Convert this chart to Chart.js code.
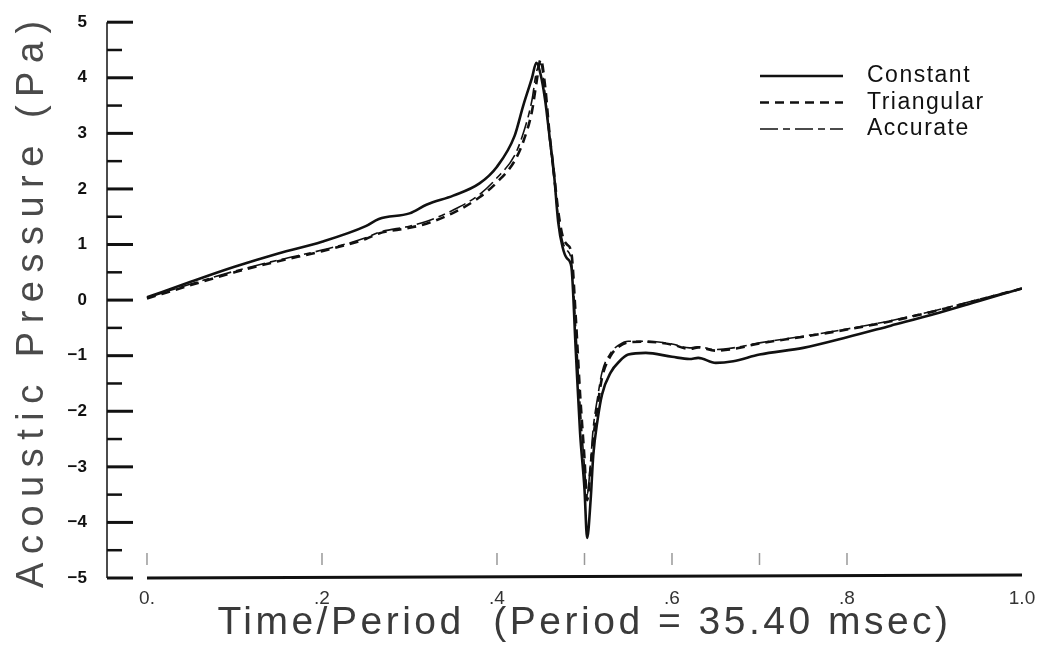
<!DOCTYPE html>
<html>
<head>
<meta charset="utf-8">
<script src="https://cdn.jsdelivr.net/npm/chart.js@4.4.1/dist/chart.umd.min.js"></script>
<style>
html,body{margin:0;padding:0;background:#fff;}
#wrap{width:1041px;height:654px;position:relative;}
</style>
</head>
<body>
<div id="wrap"><canvas id="c" width="1041" height="654"></canvas></div>
<script>
// ---- data ----
const xValues = [0, 0.05, 0.1, 0.15, 0.2, 0.25, 0.265, 0.3, 0.32, 0.35, 0.38, 0.4, 0.42, 0.43, 0.44, 0.445, 0.45, 0.455, 0.46, 0.465, 0.47, 0.475, 0.48, 0.485, 0.49, 0.495, 0.5, 0.503, 0.507, 0.51, 0.515, 0.52, 0.53, 0.54, 0.55, 0.57, 0.6, 0.62, 0.63, 0.65, 0.67, 0.7, 0.75, 0.8, 0.85, 0.9, 0.95, 1.0];
const constantValues = [0.05, 0.33, 0.6, 0.84, 1.05, 1.33, 1.46, 1.56, 1.72, 1.88, 2.1, 2.4, 2.95, 3.5, 4.0, 4.27, 4.05, 3.6, 2.95, 2.3, 1.4, 0.95, 0.75, 0.6, -0.9, -2.4, -3.4, -4.28, -3.6, -2.8, -2.15, -1.7, -1.3, -1.1, -0.98, -0.95, -1.02, -1.06, -1.04, -1.13, -1.1, -0.98, -0.86, -0.67, -0.46, -0.25, -0.02, 0.21];
const triangularValues = [0.03, 0.27, 0.5, 0.7, 0.88, 1.1, 1.2, 1.3, 1.38, 1.57, 1.85, 2.12, 2.5, 2.85, 3.4, 3.9, 4.33, 3.85, 3.0, 2.3, 1.6, 1.15, 1.0, 0.85, -0.3, -1.7, -2.85, -3.6, -3.0, -2.5, -1.9, -1.4, -1.0, -0.83, -0.76, -0.75, -0.8, -0.88, -0.85, -0.91, -0.88, -0.78, -0.66, -0.53, -0.38, -0.2, 0.0, 0.21];
const accurateValues = [0.04, 0.29, 0.52, 0.72, 0.9, 1.12, 1.22, 1.33, 1.42, 1.62, 1.9, 2.2, 2.6, 3.0, 3.6, 4.1, 4.25, 3.7, 2.9, 2.2, 1.5, 1.05, 0.9, 0.7, -0.5, -1.9, -3.0, -3.5, -2.9, -2.3, -1.75, -1.3, -0.95, -0.8, -0.74, -0.74, -0.79, -0.86, -0.84, -0.89, -0.86, -0.77, -0.65, -0.52, -0.37, -0.19, 0.01, 0.21];
const seriesNames = ['Constant', 'Triangular', 'Accurate'];
const xTickValues = [0, 0.2, 0.4, 0.6, 0.8, 1.0];
const xTickLabels = ['0.', '.2', '.4', '.6', '.8', '1.0'];
const xMinorTickValues = [0, 0.2, 0.4, 0.5, 0.6, 0.7, 0.8];
const yTickValues = [5, 4, 3, 2, 1, 0, -1, -2, -3, -4, -5];
const yTickLabels = ['5', '4', '3', '2', '1', '0', '\u22121', '\u22122', '\u22123', '\u22124', '\u22125'];
const yMinorTickValues = [4.5, 3.5, 2.5, 1.5, 0.5, -0.5, -1.5, -2.5, -3.5, -4.5];
const xTitle = 'Time/Period  (Period = 35.40 msec)';
const yTitle = 'Acoustic Pressure (Pa)';

const toPoints = arr => xValues.map((x, i) => ({x: x, y: arr[i]}));

const INK = '#111';

const decorPlugin = {
  id: 'decor',
  afterUpdate(chart) {
    const spacing = {x: '3.5px', y: '8.5px'};
    const shift = {x: [20, 0], y: [0, 0]};
    ['x', 'y'].forEach(id => {
      const s = chart.scales[id];
      if (s && !s.__wrapped) {
        const orig = s.drawTitle.bind(s);
        s.drawTitle = function () {
          const ctx = chart.ctx;
          ctx.save();
          try { ctx.letterSpacing = spacing[id]; } catch (e) {}
          ctx.translate(shift[id][0], shift[id][1]);
          orig();
          ctx.restore();
        };
        s.__wrapped = true;
      }
    });
  },
  afterDraw(chart) {
    const ctx = chart.ctx;
    const xs = chart.scales.x, ys = chart.scales.y;
    const left = chart.chartArea.left;
    ctx.save();
    ctx.strokeStyle = INK;
    ctx.lineCap = 'butt';
    // y axis spine
    ctx.lineWidth = 1.5;
    ctx.beginPath();
    ctx.moveTo(left, ys.getPixelForValue(5));
    ctx.lineTo(left, ys.getPixelForValue(-5));
    ctx.stroke();
    // major ticks (pointing into the plot)
    ctx.lineWidth = 3;
    yTickValues.forEach(v => {
      const p = ys.getPixelForValue(v);
      ctx.beginPath(); ctx.moveTo(left, p); ctx.lineTo(left + 26, p); ctx.stroke();
    });
    ctx.lineWidth = 2.5;
    yMinorTickValues.forEach(v => {
      const p = ys.getPixelForValue(v);
      ctx.beginPath(); ctx.moveTo(left, p); ctx.lineTo(left + 15, p); ctx.stroke();
    });
    // x axis line at y = -5
    const yb = ys.getPixelForValue(-5);
    ctx.lineWidth = 3;
    ctx.beginPath();
    ctx.moveTo(xs.getPixelForValue(0), yb);
    ctx.lineTo(xs.getPixelForValue(1), yb - 3);
    ctx.stroke();
    // faint x ticks
    ctx.strokeStyle = '#999';
    ctx.lineWidth = 1.5;
    xMinorTickValues.forEach(v => {
      const p = xs.getPixelForValue(v);
      ctx.beginPath(); ctx.moveTo(p, yb - 25); ctx.lineTo(p, yb - 13); ctx.stroke();
    });
    // legend
    const lx0 = chart.chartArea.right - 262, lx1 = chart.chartArea.right - 179, tx = chart.chartArea.right - 155;
    ctx.font = '23px "Liberation Sans", Arial, sans-serif';
    ctx.textBaseline = 'middle';
    ctx.textAlign = 'left';
    try { ctx.letterSpacing = '1.5px'; } catch (e) {}
    chart.data.datasets.forEach((ds, i) => {
      const y = 76 + i * 26.5;
      ctx.strokeStyle = INK;
      ctx.lineWidth = ds.borderWidth;
      ctx.setLineDash(ds.borderDash || []);
      ctx.beginPath(); ctx.moveTo(lx0, y); ctx.lineTo(lx1, y); ctx.stroke();
      ctx.setLineDash([]);
      ctx.fillStyle = INK;
      ctx.fillText(ds.label, tx, y);
    });
    ctx.restore();
  }
};

new Chart(document.getElementById('c'), {
  type: 'line',
  data: {
    datasets: [
      {label: seriesNames[0], data: toPoints(constantValues), borderColor: INK, borderWidth: 2.6, borderDash: [], pointRadius: 0, cubicInterpolationMode: 'monotone'},
      {label: seriesNames[1], data: toPoints(triangularValues), borderColor: INK, borderWidth: 2.6, borderDash: [9, 6], pointRadius: 0, cubicInterpolationMode: 'monotone'},
      {label: seriesNames[2], data: toPoints(accurateValues), borderColor: INK, borderWidth: 1.6, borderDash: [18, 5, 7, 5], pointRadius: 0, cubicInterpolationMode: 'monotone'}
    ]
  },
  options: {
    responsive: false,
    devicePixelRatio: 1,
    animation: false,
    layout: {padding: {top: 20, right: 19, left: 0, bottom: 0}},
    plugins: {legend: {display: false}, tooltip: {enabled: false}},
    scales: {
      x: {
        type: 'linear',
        min: -0.0457,
        max: 1.0,
        afterBuildTicks: s => { s.ticks = xTickValues.map(v => ({value: v})); },
        afterFit: s => { s.height = 76; },
        grid: {display: false},
        border: {display: false},
        ticks: {
          autoSkip: false, maxRotation: 0, padding: 1,
          color: '#333',
          font: {family: '"Liberation Sans", Arial, sans-serif', size: 19},
          callback: v => { const i = xTickValues.indexOf(v); return i >= 0 ? xTickLabels[i] : ''; }
        },
        title: {
          display: true, text: xTitle, color: '#3a3a3a',
          font: {family: '"Liberation Sans", Arial, sans-serif', size: 39, weight: 'normal', lineHeight: 1.2},
          padding: {top: 0, bottom: 7}
        }
      },
      y: {
        type: 'linear',
        min: -5,
        max: 5,
        afterBuildTicks: s => { s.ticks = yTickValues.map(v => ({value: v})); },
        afterFit: s => { s.width = 107; },
        grid: {display: false},
        border: {display: false},
        ticks: {
          padding: 12,
          color: '#111',
          font: {family: '"Liberation Sans", Arial, sans-serif', size: 17, weight: 'bold'},
          callback: v => { const i = yTickValues.indexOf(v); return i >= 0 ? yTickLabels[i] : ''; }
        },
        title: {
          display: true, text: yTitle, color: '#4a4a4a',
          font: {family: '"Liberation Sans", Arial, sans-serif', size: 38, weight: 'normal', lineHeight: 1.2},
          padding: {top: 10, bottom: 0}
        }
      }
    }
  },
  plugins: [decorPlugin]
});
</script>
</body>
</html>
